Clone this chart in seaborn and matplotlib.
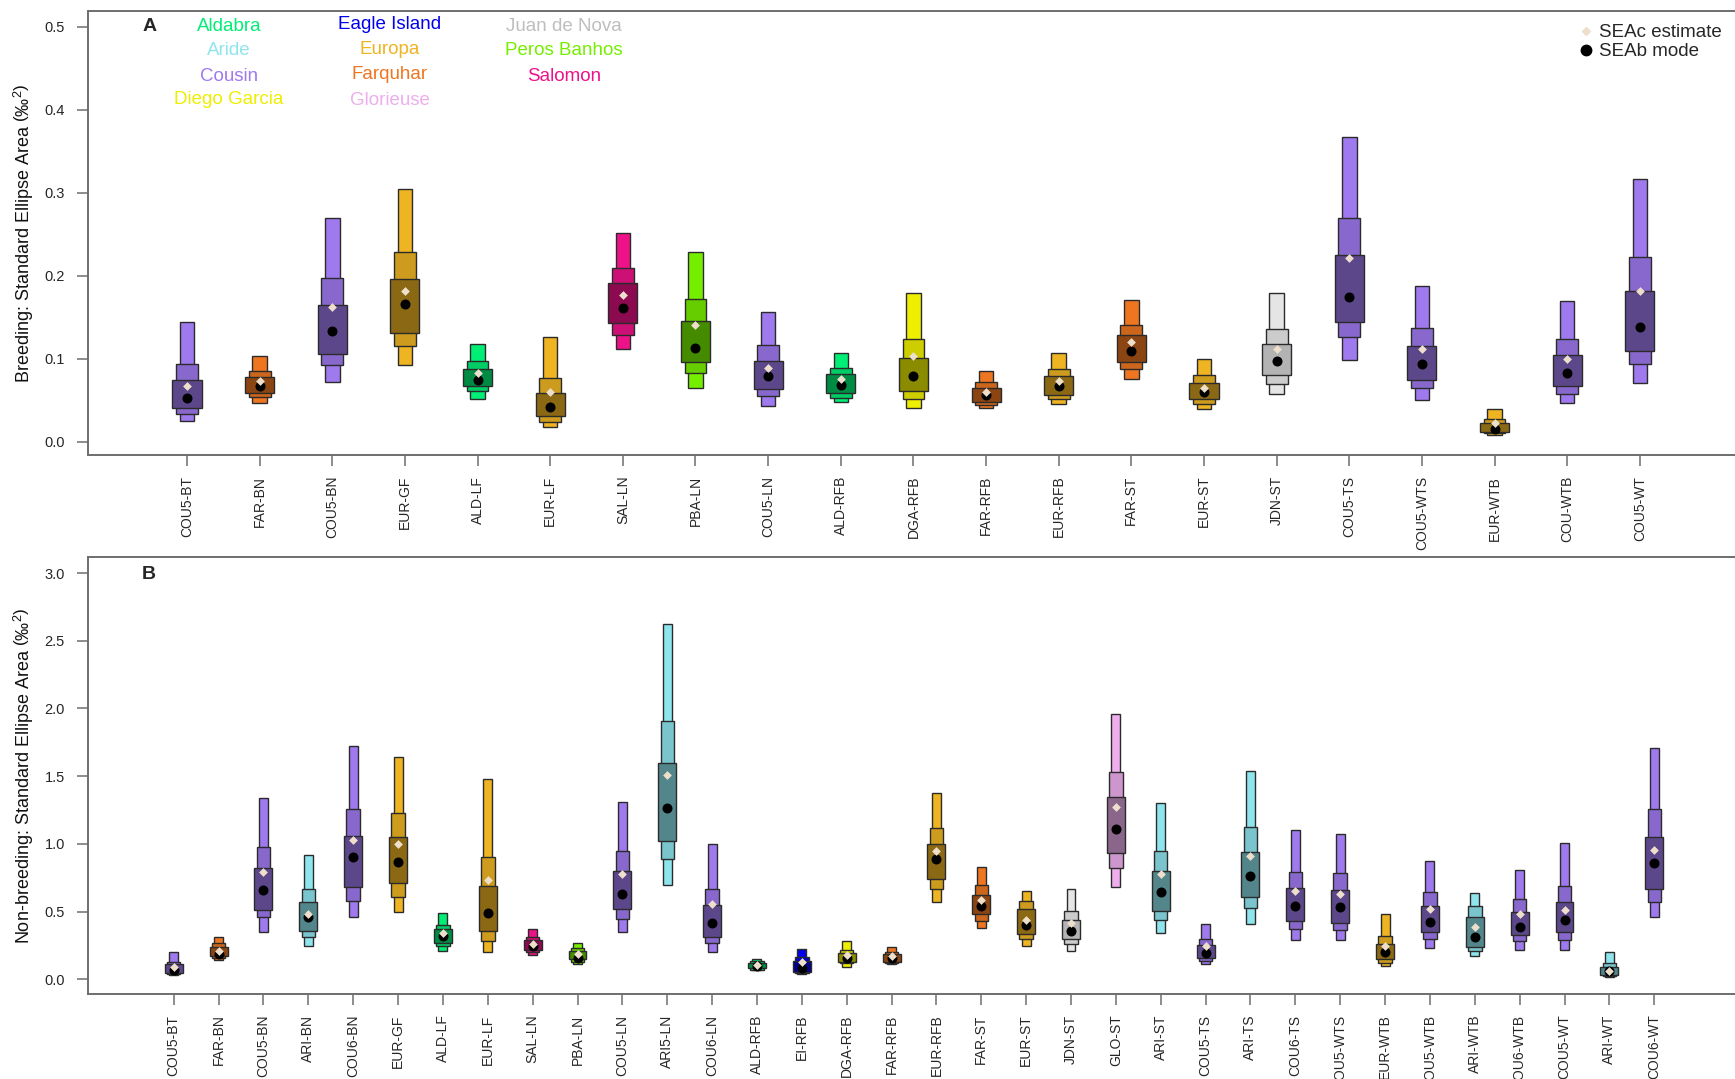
import numpy as np
import pandas as pd
import seaborn as sns
import matplotlib.pyplot as plt
from matplotlib.lines import Line2D

sns.set_theme(style='white')
plt.rcParams['font.family'] = ['Liberation Sans', 'DejaVu Sans']
plt.rcParams['mathtext.fontset'] = 'custom'
plt.rcParams['mathtext.rm'] = 'Liberation Sans'
plt.rcParams['mathtext.it'] = 'Liberation Sans'

# sites: legend name, light (95%), mid (75%), dark (50%) colours
site_codes = ['ALD', 'ARI', 'COU', 'DGA', 'EI', 'EUR', 'FAR', 'GLO', 'JDN', 'PBA', 'SAL']
site_names = ['Aldabra', 'Aride', 'Cousin', 'Diego Garcia', 'Eagle Island', 'Europa',
              'Farquhar', 'Glorieuse', 'Juan de Nova', 'Peros Banhos', 'Salomon']
site_text = ['#00EE76', '#8EE5EE', '#9F79EE', '#EEEE00', '#0000EE', '#EEB422',
             '#EE7621', '#EEAEEE', '#BEBEBE', '#76EE00', '#EE1289']
site_light = ['#00EE76', '#8EE5EE', '#9F79EE', '#EEEE00', '#0000EE', '#EEB422',
              '#EE7621', '#EEAEEE', '#E5E5E5', '#76EE00', '#EE1289']
site_mid = ['#00CD66', '#7AC5CD', '#8968CD', '#CDCD00', '#0000CD', '#CD9B1D',
            '#CD661D', '#CD96CD', '#CCCCCC', '#66CD00', '#CD1076']
site_dark = ['#008B45', '#53868B', '#5D478B', '#8B8B00', '#00008B', '#8B6914',
             '#8B4513', '#8B668B', '#B3B3B3', '#458B00', '#8B0A50']

# ---- panel A: breeding ----
labels_a = ['COU5-BT', 'FAR-BN', 'COU5-BN', 'EUR-GF', 'ALD-LF', 'EUR-LF', 'SAL-LN', 'PBA-LN',
            'COU5-LN', 'ALD-RFB', 'DGA-RFB', 'FAR-RFB', 'EUR-RFB', 'FAR-ST', 'EUR-ST', 'JDN-ST',
            'COU5-TS', 'COU5-WTS', 'EUR-WTB', 'COU-WTB', 'COU5-WT']
lo95_a = [0.025, 0.046, 0.072, 0.092, 0.051, 0.018, 0.111, 0.065, 0.043, 0.048, 0.040,
          0.040, 0.045, 0.076, 0.039, 0.057, 0.098, 0.050, 0.008, 0.046, 0.070]
hi95_a = [0.144, 0.103, 0.269, 0.304, 0.117, 0.126, 0.252, 0.229, 0.156, 0.107, 0.179,
          0.085, 0.107, 0.171, 0.099, 0.179, 0.367, 0.187, 0.039, 0.170, 0.317]
lo75_a = [0.033, 0.054, 0.092, 0.115, 0.061, 0.024, 0.129, 0.083, 0.055, 0.053, 0.051,
          0.044, 0.051, 0.087, 0.045, 0.069, 0.126, 0.064, 0.010, 0.057, 0.093]
hi75_a = [0.093, 0.085, 0.197, 0.229, 0.097, 0.077, 0.209, 0.172, 0.116, 0.089, 0.124,
          0.072, 0.087, 0.141, 0.080, 0.136, 0.269, 0.137, 0.027, 0.124, 0.222]
lo50_a = [0.041, 0.059, 0.106, 0.131, 0.067, 0.031, 0.143, 0.096, 0.063, 0.059, 0.061,
          0.048, 0.056, 0.096, 0.051, 0.080, 0.144, 0.074, 0.012, 0.067, 0.109]
hi50_a = [0.074, 0.078, 0.165, 0.196, 0.088, 0.059, 0.191, 0.145, 0.097, 0.081, 0.101,
          0.065, 0.079, 0.128, 0.071, 0.117, 0.225, 0.115, 0.022, 0.104, 0.182]
mode_a = [0.053, 0.067, 0.133, 0.166, 0.074, 0.042, 0.161, 0.113, 0.079, 0.068, 0.079,
          0.056, 0.067, 0.109, 0.060, 0.097, 0.174, 0.093, 0.015, 0.083, 0.138]
seac_a = [0.067, 0.073, 0.162, 0.182, 0.083, 0.060, 0.177, 0.140, 0.089, 0.075, 0.103,
          0.060, 0.073, 0.120, 0.065, 0.112, 0.221, 0.112, 0.022, 0.099, 0.181]

# ---- panel B: non-breeding ----
labels_b = ['COU5-BT', 'FAR-BN', 'COU5-BN', 'ARI-BN', 'COU6-BN', 'EUR-GF', 'ALD-LF', 'EUR-LF',
            'SAL-LN', 'PBA-LN', 'COU5-LN', 'ARI5-LN', 'COU6-LN', 'ALD-RFB', 'EI-RFB', 'DGA-RFB',
            'FAR-RFB', 'EUR-RFB', 'FAR-ST', 'EUR-ST', 'JDN-ST', 'GLO-ST', 'ARI-ST', 'COU5-TS',
            'ARI-TS', 'COU6-TS', 'COU5-WTS', 'EUR-WTB', 'COU5-WTB', 'ARI-WTB', 'COU6-WTB',
            'COU5-WT', 'ARI-WT', 'COU6-WT']
lo95_b = [0.03, 0.14, 0.35, 0.25, 0.46, 0.50, 0.21, 0.20, 0.18, 0.11, 0.347, 0.694, 0.20,
          0.069, 0.039, 0.093, 0.111, 0.573, 0.376, 0.245, 0.211, 0.679, 0.342, 0.111, 0.41,
          0.292, 0.288, 0.096, 0.229, 0.17, 0.22, 0.22, 0.02, 0.46]
hi95_b = [0.20, 0.31, 1.34, 0.915, 1.72, 1.64, 0.49, 1.48, 0.37, 0.27, 1.306, 2.62, 1.00,
          0.148, 0.224, 0.285, 0.236, 1.373, 0.831, 0.65, 0.666, 1.96, 1.30, 0.408, 1.542,
          1.10, 1.077, 0.48, 0.871, 0.64, 0.81, 1.005, 0.20, 1.71]
lo75_b = [0.04, 0.16, 0.46, 0.31, 0.58, 0.61, 0.245, 0.28, 0.20, 0.13, 0.443, 0.886, 0.266,
          0.073, 0.044, 0.118, 0.12, 0.669, 0.433, 0.30, 0.26, 0.826, 0.435, 0.137, 0.524,
          0.369, 0.364, 0.123, 0.295, 0.21, 0.28, 0.29, 0.025, 0.57]
hi75_b = [0.13, 0.27, 0.98, 0.67, 1.26, 1.23, 0.40, 0.90, 0.31, 0.23, 0.95, 1.91, 0.67,
          0.135, 0.167, 0.216, 0.204, 1.119, 0.696, 0.58, 0.506, 1.53, 0.949, 0.295, 1.124,
          0.794, 0.782, 0.322, 0.642, 0.54, 0.59, 0.69, 0.12, 1.26]
lo50_b = [0.05, 0.17, 0.515, 0.36, 0.68, 0.71, 0.27, 0.36, 0.22, 0.15, 0.517, 1.02, 0.314,
          0.081, 0.056, 0.125, 0.13, 0.738, 0.48, 0.335, 0.295, 0.934, 0.506, 0.16, 0.605,
          0.43, 0.418, 0.15, 0.347, 0.24, 0.33, 0.35, 0.032, 0.67]
hi50_b = [0.11, 0.24, 0.82, 0.57, 1.06, 1.05, 0.37, 0.69, 0.29, 0.21, 0.80, 1.60, 0.546,
          0.123, 0.135, 0.196, 0.187, 0.996, 0.622, 0.52, 0.438, 1.343, 0.797, 0.251, 0.942,
          0.672, 0.659, 0.26, 0.539, 0.46, 0.50, 0.57, 0.093, 1.05]
mode_b = [0.07, 0.19, 0.66, 0.46, 0.90, 0.87, 0.32, 0.49, 0.245, 0.16, 0.627, 1.266, 0.415,
          0.098, 0.081, 0.155, 0.155, 0.886, 0.541, 0.40, 0.356, 1.111, 0.642, 0.196, 0.762,
          0.541, 0.534, 0.199, 0.425, 0.31, 0.39, 0.44, 0.064, 0.86]
seac_b = [0.09, 0.21, 0.79, 0.48, 1.03, 1.00, 0.34, 0.735, 0.26, 0.19, 0.78, 1.51, 0.553,
          0.105, 0.125, 0.18, 0.172, 0.947, 0.585, 0.44, 0.42, 1.274, 0.779, 0.243, 0.912,
          0.654, 0.63, 0.246, 0.521, 0.39, 0.48, 0.515, 0.064, 0.955]

EDGE = '#2b2b2b'
SPINE = '#6e6e6e'


def site_of(label):
    return site_codes.index(label.split('-')[0].rstrip('0123456789'))


def density_panel(ax, labels, lo95, hi95, lo75, hi75, lo50, hi50, mode, seac):
    x = np.arange(1, len(labels) + 1)
    idx = [site_of(l) for l in labels]
    # nested credible-interval boxes, narrowest (95%) drawn first
    for lo, hi, w, pal in [(lo95, hi95, 0.2, site_light), (lo75, hi75, 0.3, site_mid),
                           (lo50, hi50, 0.4, site_dark)]:
        lo, hi = np.array(lo), np.array(hi)
        ax.bar(x, hi - lo, bottom=lo, width=w, color=[pal[i] for i in idx],
               edgecolor=EDGE, linewidth=1.0, zorder=2)
    df = pd.DataFrame({'x': x, 'mode': mode, 'seac': seac})
    sns.scatterplot(data=df, x='x', y='mode', color='black', s=52, marker='o',
                    linewidth=0, ax=ax, zorder=5)
    sns.scatterplot(data=df, x='x', y='seac', color='#EEDFCC', s=20, marker='D',
                    linewidth=0, ax=ax, zorder=6)
    ax.set_xticks(x)
    ax.set_xticklabels(labels, rotation=90, fontsize=10)
    ax.set_xlabel('')
    ax.set_ylabel('')
    ax.tick_params(axis='both', direction='out', length=8, width=1.1, color=SPINE,
                   bottom=True, left=True, pad=7)
    ax.tick_params(axis='y', labelsize=10.5, pad=9)
    for side in ['left', 'bottom', 'top']:
        ax.spines[side].set_color(SPINE)
        ax.spines[side].set_linewidth(1.4)
    ax.spines['right'].set_visible(False)


fig = plt.figure(figsize=(17.35, 10.79), dpi=100)
ax_a = fig.add_axes([0.051, 0.5785, 0.949, 0.4112])
ax_b = fig.add_axes([0.051, 0.079, 0.949, 0.405])

density_panel(ax_a, labels_a, lo95_a, hi95_a, lo75_a, hi75_a, lo50_a, hi50_a, mode_a, seac_a)
ax_a.set_xlim(-0.356, 22.31)
ax_a.set_ylim(-0.016, 0.519)
ax_a.set_yticks(np.arange(0, 0.51, 0.1))
ax_a.set_yticklabels([f'{v:.1f}' for v in np.arange(0, 0.51, 0.1)])

density_panel(ax_b, labels_b, lo95_b, hi95_b, lo75_b, hi75_b, lo50_b, hi50_b, mode_b, seac_b)
ax_b.set_xlim(-0.9, 35.8)
ax_b.set_ylim(-0.106, 3.12)
ax_b.set_yticks(np.arange(0, 3.01, 0.5))
ax_b.set_yticklabels([f'{v:.1f}' for v in np.arange(0, 3.01, 0.5)])

fig.text(0.014, 0.784, r'Breeding: Standard Ellipse Area $\left(‰^{2}\right)$',
         rotation=90, ha='center', va='center', fontsize=13, color='#111111')
fig.text(0.014, 0.281, r'Non-breeding: Standard Ellipse Area $\left(‰^{2}\right)$',
         rotation=90, ha='center', va='center', fontsize=13, color='#111111')

fig.text(0.086, 0.975, 'A', fontsize=14, fontweight='bold', ha='center', va='center')
fig.text(0.086, 0.468, 'B', fontsize=14, fontweight='bold', ha='center', va='center')

# site colour key, three columns
key_x = [0.132, 0.132, 0.132, 0.132, 0.2245, 0.2245, 0.2245, 0.2245, 0.325, 0.325, 0.325]
key_y = [0.975, 0.953, 0.929, 0.908, 0.977, 0.954, 0.931, 0.907, 0.975, 0.953, 0.929]
for name, col, kx, ky in zip(site_names, site_text, key_x, key_y):
    fig.text(kx, ky, name, color=col, fontsize=13.5, ha='center', va='center')

handles = [Line2D([], [], marker='D', color='#EEDFCC', linestyle='', markersize=4.5),
           Line2D([], [], marker='o', color='black', linestyle='', markersize=7.5)]
ax_a.legend(handles, ['SEAc estimate', 'SEAb mode'], loc='upper right',
            bbox_to_anchor=(1.0, 1.0), frameon=False, fontsize=13.5, handletextpad=0.2,
            borderaxespad=0.3, labelspacing=0.1, handlelength=1.0)

fig.savefig('out.png', dpi=100)
